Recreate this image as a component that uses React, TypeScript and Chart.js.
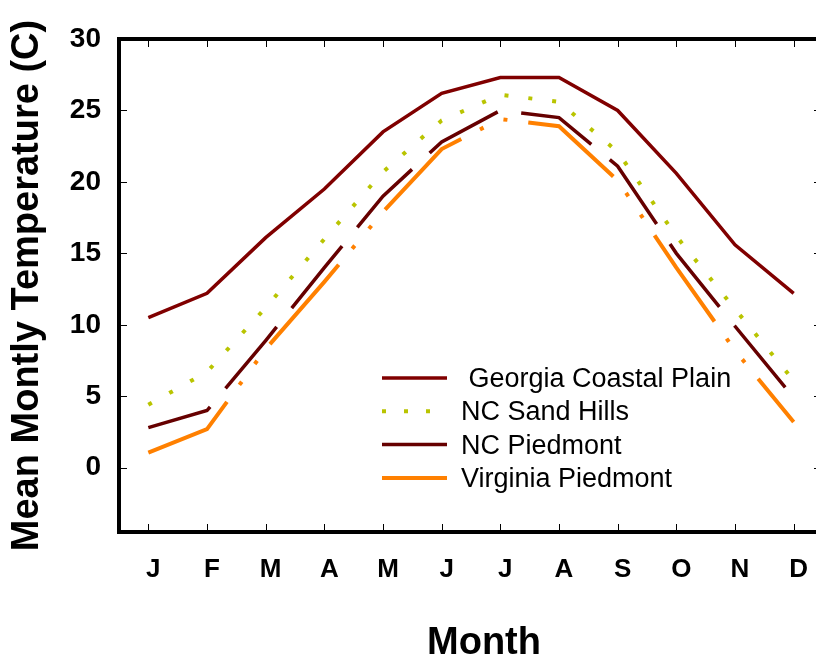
import React, { useEffect, useRef } from 'react';
import { Chart, registerables } from 'chart.js';

Chart.register(...registerables);

const FONT = '"Liberation Sans", Arial, Helvetica, sans-serif';

const months = ['J', 'F', 'M', 'A', 'M', 'J', 'J', 'A', 'S', 'O', 'N', 'D'];
const georgiaCoastalPlain = [10.5, 12.2, 16.1, 19.5, 23.5, 26.2, 27.3, 27.3, 25.0, 20.6, 15.6, 12.2];
const ncSandHills = [4.4, 6.7, 11.2, 16.0, 20.7, 24.3, 26.1, 25.6, 22.1, 16.2, 11.1, 6.1];
const ncPiedmont = [2.8, 4.0, 8.9, 14.0, 19.0, 22.8, 25.0, 24.5, 21.1, 15.0, 9.9, 4.9];
const virginiaPiedmont = [1.05, 2.7, 8.3, 13.0, 17.9, 22.3, 24.4, 23.9, 20.1, 14.0, 8.2, 3.2];
const yTickValues = [0, 5, 10, 15, 20, 25, 30];
const seriesLabels = [' Georgia Coastal Plain', 'NC Sand Hills', 'NC Piedmont', 'Virginia Piedmont'];
const xTitle = 'Month';
const yTitle = 'Mean Montly Temperature (C)';

const framePlugin = {
  id: 'frameTicks',
  afterDatasetsDraw(chart: any) {
    const { ctx, chartArea: a, scales } = chart;
    ctx.save();
    ctx.strokeStyle = '#000';
    ctx.lineWidth = 1;
    ctx.beginPath();
    scales.y.ticks.forEach((t: any) => {
      const py = Math.round(scales.y.getPixelForValue(t.value)) + 0.5;
      ctx.moveTo(a.left, py);
      ctx.lineTo(a.left + 8, py);
      ctx.moveTo(a.right, py);
      ctx.lineTo(a.right - 9, py);
    });
    scales.x.ticks.forEach((_t: any, i: number) => {
      const px = Math.round(scales.x.getPixelForTick(i)) + 0.5;
      ctx.moveTo(px, a.bottom);
      ctx.lineTo(px, a.bottom - 8);
      ctx.moveTo(px, a.top);
      ctx.lineTo(px, a.top + 8);
    });
    ctx.stroke();
    ctx.lineWidth = 4;
    ctx.strokeRect(a.left, a.top, a.right - a.left, a.bottom - a.top);
    ctx.restore();
  },
};

const legendPlugin = {
  id: 'insideLegend',
  afterDraw(chart: any) {
    const { ctx, chartArea: a } = chart;
    const x0 = a.left + 263;
    const y0 = a.top + 339;
    const rowH = 33.3;
    chart.data.datasets.forEach((ds: any, i: number) => {
      const y = y0 + i * rowH;
      ctx.save();
      ctx.strokeStyle = ds.borderColor;
      ctx.lineWidth = ds.borderWidth;
      ctx.lineCap = 'butt';
      ctx.setLineDash(ds.legendDash || []);
      ctx.beginPath();
      ctx.moveTo(x0, y);
      ctx.lineTo(x0 + 65, y);
      ctx.stroke();
      ctx.setLineDash([]);
      ctx.fillStyle = '#000';
      ctx.font = `27px ${FONT}`;
      ctx.textAlign = 'left';
      ctx.textBaseline = 'middle';
      ctx.fillText(ds.label, x0 + 79, y + 1.5);
      ctx.restore();
    });
  },
};

const xTitlePlugin = {
  id: 'xTitle',
  afterDraw(chart: any) {
    const { ctx, chartArea: a } = chart;
    ctx.save();
    ctx.fillStyle = '#000';
    ctx.font = `bold 38px ${FONT}`;
    ctx.textAlign = 'center';
    ctx.textBaseline = 'middle';
    ctx.fillText(xTitle, (a.left + a.right) / 2 + 13, chart.height - 20);
    ctx.restore();
  },
};

export default function App() {
  const canvasRef = useRef<HTMLCanvasElement | null>(null);

  useEffect(() => {
    if (!canvasRef.current) return;
    const chart = new Chart(canvasRef.current, {
      type: 'line',
      data: {
        labels: months,
        datasets: [
          {
            label: seriesLabels[0],
            data: georgiaCoastalPlain,
            borderColor: '#800000',
            borderWidth: 3.5,
            pointRadius: 0,
            fill: false,
          } as any,
          {
            label: seriesLabels[1],
            data: ncSandHills,
            borderColor: '#b9c400',
            borderWidth: 4,
            borderDash: [4, 20],
            borderCapStyle: 'butt',
            legendDash: [4, 18],
            pointRadius: 0,
            fill: false,
          },
          {
            label: seriesLabels[2],
            data: ncPiedmont,
            borderColor: '#660000',
            borderWidth: 3.5,
            borderDash: [80, 24],
            borderDashOffset: 14,
            pointRadius: 0,
            fill: false,
          },
          {
            label: seriesLabels[3],
            data: virginiaPiedmont,
            borderColor: '#ff8000',
            borderWidth: 4,
            borderDash: [105, 21, 4, 22, 4, 21],
            borderDashOffset: 8,
            pointRadius: 0,
            fill: false,
          },
        ],
      },
      options: {
        animation: false,
        responsive: true,
        maintainAspectRatio: false,
        layout: { padding: { top: 39, right: 7, left: 0, bottom: 0 } },
        plugins: {
          legend: { display: false },
          tooltip: { enabled: false },
        },
        elements: { line: { tension: 0 } },
        scales: {
          x: {
            type: 'category',
            offset: true,
            grid: { display: false, drawTicks: false, offset: true },
            border: { display: false },
            ticks: {
              color: '#000',
              font: { family: FONT, size: 26, weight: 'bold' },
              padding: 22,
              labelOffset: 5,
              maxRotation: 0,
              autoSkip: false,
            },
            afterFit: (s: any) => {
              s.height = 132;
            },
          },
          y: {
            type: 'linear',
            min: -4.5,
            max: 30,
            grid: { display: false, drawTicks: false },
            border: { display: false },
            ticks: {
              color: '#000',
              font: { family: FONT, size: 28, weight: 'bold' },
              padding: 18,
            },
            afterBuildTicks: (s: any) => {
              s.ticks = yTickValues.map((v) => ({ value: v }));
            },
            afterFit: (s: any) => {
              s.width = 119;
            },
            title: {
              display: true,
              text: yTitle,
              color: '#000',
              font: { family: FONT, size: 38, weight: 'bold' },
              padding: { top: 5, bottom: 0 },
            },
          },
        },
      } as any,
      plugins: [framePlugin, legendPlugin, xTitlePlugin],
    });
    return () => chart.destroy();
  }, []);

  return (
    <div
      style={{
        position: 'fixed',
        left: 0,
        top: 0,
        width: 816,
        height: 664,
        overflow: 'hidden',
        background: '#fff',
      }}
    >
      <div style={{ position: 'relative', width: 830, height: 664 }}>
        <canvas ref={canvasRef} />
      </div>
    </div>
  );
}
